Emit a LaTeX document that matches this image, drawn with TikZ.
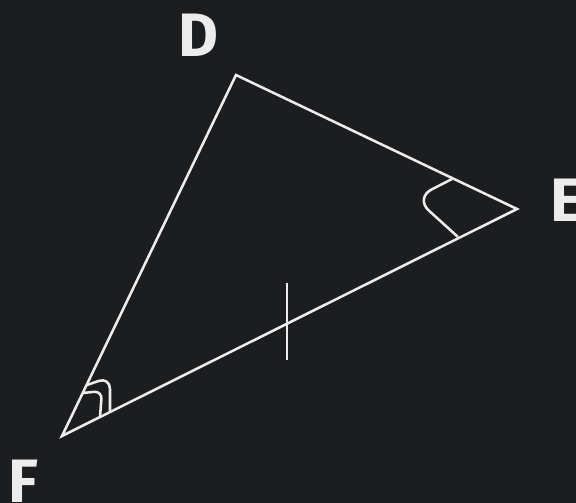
\documentclass[tikz,border=0pt]{standalone}
\usepackage{fontspec}
\setmainfont{Fira Sans}
\usepackage{xcolor}
\usetikzlibrary{positioning}

\definecolor{bgdark}{HTML}{1C1D1F}
\definecolor{chalk}{HTML}{ECECEC}

\begin{document}
\begin{tikzpicture}[
  x=0.75pt, y=-0.75pt,
  side/.style={draw=chalk, line width=1.9pt, line join=miter},
  anglemark/.style={draw=chalk, line width=1.9pt, rounded corners=9pt},
  tickmark/.style={draw=chalk, line width=1.3pt},
  vlabel/.style={text=chalk, inner sep=0pt, font=\fontsize{46}{46}\selectfont\bfseries}
]
  \fill[bgdark] (0,0) rectangle (576,503);
  \useasboundingbox (0,0) rectangle (576,503);

  % vertices
  \coordinate (D) at (236,75);
  \coordinate (E) at (517,209);
  \coordinate (F) at (62,436);

  % labels
  \node[vlabel, anchor=base] (labD) at (198,57) {D};
  \node[vlabel, anchor=base west] (labE) at (550,222) {E};
  \node[vlabel, anchor=base west] (labF) at (8,503) {F};

  % triangle
  \draw[side] (D) -- (E) -- (F) -- cycle;

  % angle at E
  \coordinate (e1) at (452,179);
  \coordinate (e2) at (458,237);
  \draw[anglemark, rounded corners=14pt] (e1) -- (415,198) -- (e2);

  % double angle at F
  \coordinate (f1) at (87,385);
  \coordinate (f2) at (110,412);
  \coordinate (f3) at (83,393);
  \coordinate (f4) at (100,417);
  \draw[anglemark] (f1) -- (110,377) -- (f2);
  \draw[anglemark, rounded corners=6pt] (f3) -- (102,391) -- (f4);

  % equal-side tick on EF
  \coordinate (t1) at (287,283);
  \coordinate (t2) at (287,360);
  \draw[tickmark] (t1) -- (t2);
\end{tikzpicture}
\end{document}
